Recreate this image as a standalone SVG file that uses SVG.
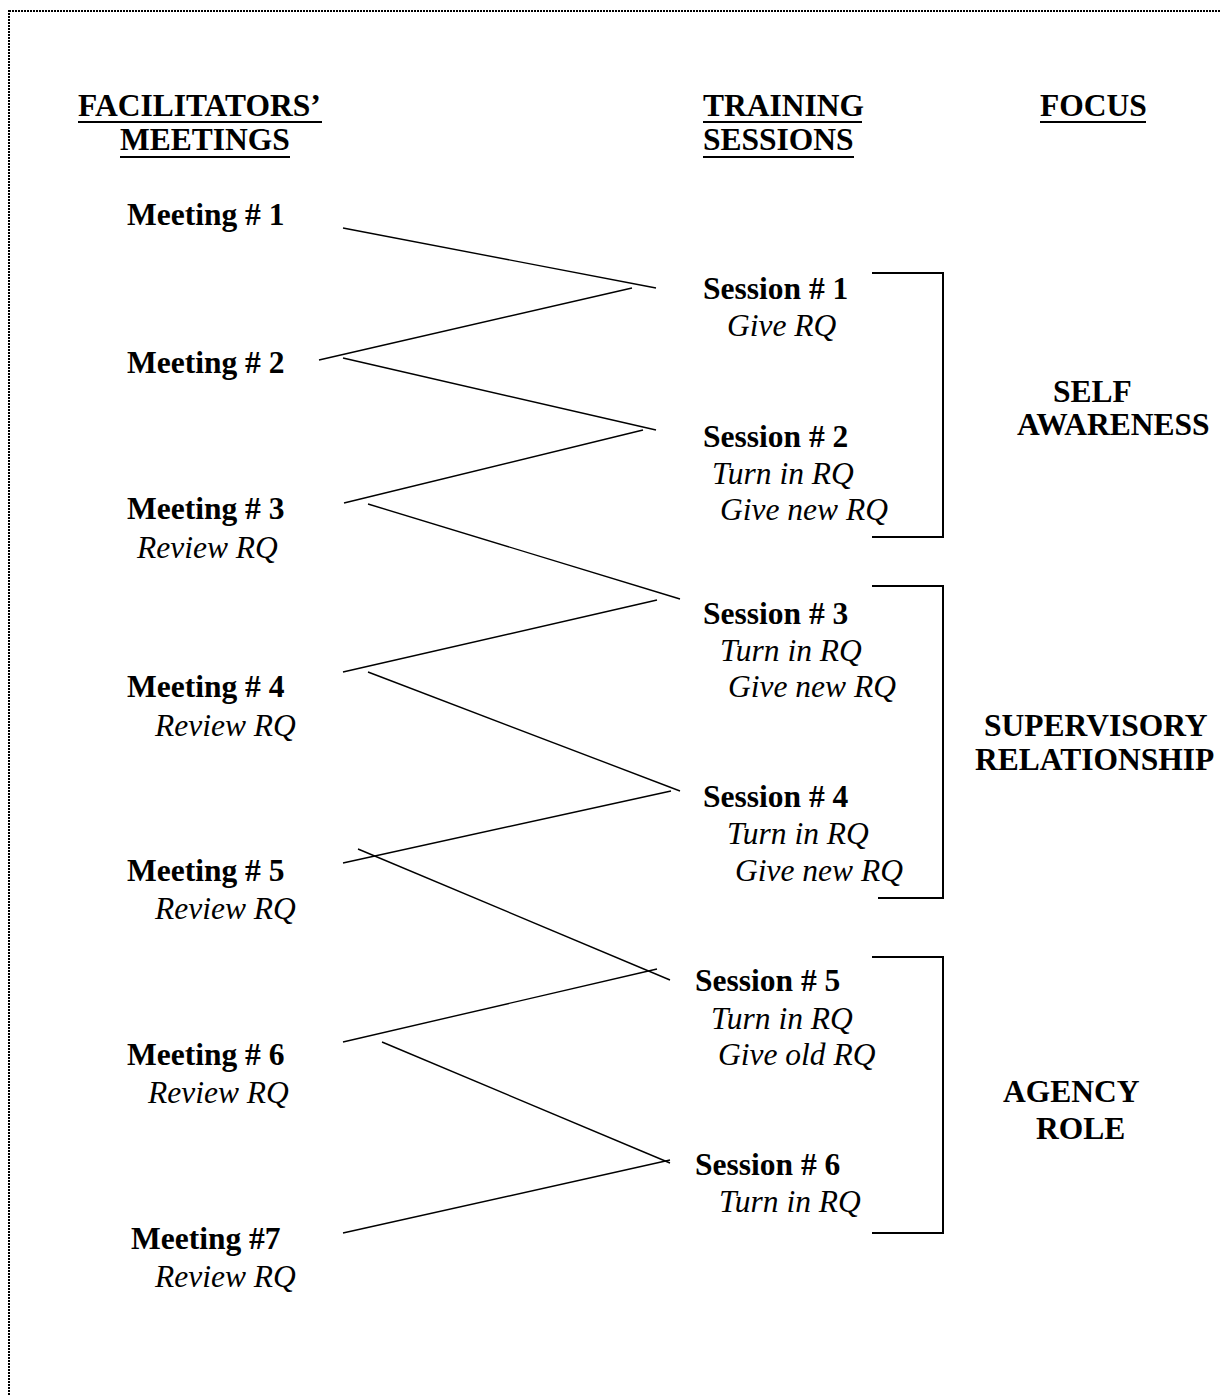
<svg xmlns="http://www.w3.org/2000/svg" width="1221" height="1395" viewBox="0 0 1221 1395">
<style>
text{font-family:"Liberation Serif","Times New Roman",serif;font-size:31.5px;fill:#000}
.b{font-weight:bold}
.i{font-style:italic}
.ul{stroke:#000;stroke-width:2.2}
.c{stroke:#000;stroke-width:1.4;fill:none}
.br{stroke:#000;stroke-width:2;fill:none}
</style>
<rect width="1221" height="1395" fill="#fff"/>
<rect x="9" y="11" width="1230" height="1400" fill="none" stroke="#000" stroke-width="2" stroke-dasharray="2 1"/>
<g id="headers">
<text class="b" x="78" y="116">FACILITATORS’</text>
<line class="ul" x1="78" y1="122" x2="322" y2="122"/>
<text class="b" x="120" y="150">MEETINGS</text>
<line class="ul" x1="120" y1="157" x2="290" y2="157"/>
<text class="b" x="703" y="116">TRAINING</text>
<line class="ul" x1="703" y1="122" x2="862" y2="122"/>
<text class="b" x="703" y="150">SESSIONS</text>
<line class="ul" x1="703" y1="157" x2="854" y2="157"/>
<text class="b" x="1040" y="116">FOCUS</text>
<line class="ul" x1="1040" y1="122" x2="1146" y2="122"/>
</g>
<g id="meeting1"><text class="b" x="127" y="225">Meeting # 1</text></g>
<g id="meeting2"><text class="b" x="127" y="373">Meeting # 2</text></g>
<g id="meeting3"><text class="b" x="127" y="519">Meeting # 3</text><text class="i" x="137" y="558">Review RQ</text></g>
<g id="meeting4"><text class="b" x="127" y="697">Meeting # 4</text><text class="i" x="155" y="736">Review RQ</text></g>
<g id="meeting5"><text class="b" x="127" y="881">Meeting # 5</text><text class="i" x="155" y="919">Review RQ</text></g>
<g id="meeting6"><text class="b" x="127" y="1065">Meeting # 6</text><text class="i" x="148" y="1103">Review RQ</text></g>
<g id="meeting7"><text class="b" x="131" y="1249">Meeting #7</text><text class="i" x="155" y="1287">Review RQ</text></g>
<g id="session1"><text class="b" x="703" y="299">Session # 1</text><text class="i" x="727" y="336">Give RQ</text></g>
<g id="session2"><text class="b" x="703" y="447">Session # 2</text><text class="i" x="712" y="484">Turn in RQ</text><text class="i" x="720" y="520">Give new RQ</text></g>
<g id="session3"><text class="b" x="703" y="624">Session # 3</text><text class="i" x="720" y="661">Turn in RQ</text><text class="i" x="728" y="697">Give new RQ</text></g>
<g id="session4"><text class="b" x="703" y="807">Session # 4</text><text class="i" x="727" y="844">Turn in RQ</text><text class="i" x="735" y="881">Give new RQ</text></g>
<g id="session5"><text class="b" x="695" y="991">Session # 5</text><text class="i" x="711" y="1029">Turn in RQ</text><text class="i" x="718" y="1065">Give old RQ</text></g>
<g id="session6"><text class="b" x="695" y="1175">Session # 6</text><text class="i" x="719" y="1212">Turn in RQ</text></g>
<g id="focus-self"><path class="br" d="M872 273H943V537H872"/><text class="b" x="1053" y="402">SELF</text><text class="b" x="1017" y="435">AWARENESS</text></g>
<g id="focus-supervisory"><path class="br" d="M872 586H943V898H878"/><text class="b" x="984" y="736">SUPERVISORY</text><text class="b" x="975" y="770">RELATIONSHIP</text></g>
<g id="focus-agency"><path class="br" d="M872 957H943V1233H872"/><text class="b" x="1003" y="1102">AGENCY</text><text class="b" x="1036" y="1139">ROLE</text></g>
<g id="connectors">
<line class="c" x1="343" y1="228" x2="656" y2="288"/>
<line class="c" x1="632" y1="288" x2="319" y2="360"/>
<line class="c" x1="343" y1="358" x2="656" y2="430"/>
<line class="c" x1="643" y1="430" x2="344" y2="503"/>
<line class="c" x1="368" y1="504" x2="680" y2="599"/>
<line class="c" x1="657" y1="600" x2="343" y2="672"/>
<line class="c" x1="368" y1="672" x2="680" y2="791"/>
<line class="c" x1="671" y1="791" x2="343" y2="863"/>
<line class="c" x1="358" y1="849" x2="670" y2="980"/>
<line class="c" x1="657" y1="969" x2="343" y2="1042"/>
<line class="c" x1="382" y1="1042" x2="670" y2="1163"/>
<line class="c" x1="670" y1="1160" x2="343" y2="1233"/>
</g>
</svg>
